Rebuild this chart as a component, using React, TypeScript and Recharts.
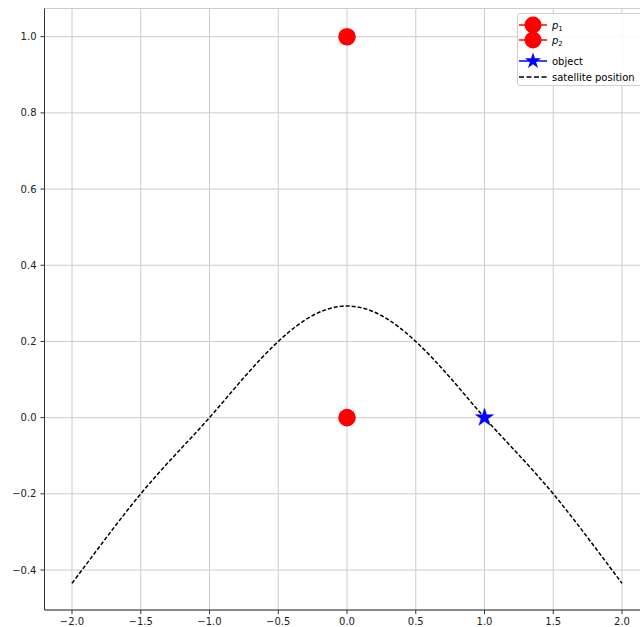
import React from 'react';
import { ComposedChart, Line, Scatter, XAxis, YAxis, CartesianGrid, Legend } from 'recharts';

// axis ticks
const xTicks = [-2, -1.5, -1, -0.5, 0, 0.5, 1, 1.5, 2];
const yTicks = [-0.4, -0.2, 0, 0.2, 0.4, 0.6, 0.8, 1.0];

// satellite position (dashed curve)
const satX = [-2, -1.75, -1.5, -1.25, -1, -0.75, -0.5, -0.25, 0, 0.25, 0.5, 0.75, 1, 1.25, 1.5, 1.75, 2];
const satY = [-0.435, -0.315, -0.2, -0.098, 0, 0.105, 0.2, 0.268, 0.293, 0.268, 0.2, 0.105, 0, -0.098, -0.2, -0.315, -0.435];

// single points
const p1 = [{ x: 0, y: 1 }];
const p2 = [{ x: 0, y: 0 }];
const objectPt = [{ x: 1, y: 0 }];

const legendLabels = ['p1', 'p2', 'object', 'satellite position'];

const satData = satX.map((x, i) => ({ x, y: satY[i] }));

const fmt = (v: number) => v.toFixed(1).replace('-', '\u2212');
const FONT = '"DejaVu Sans", sans-serif';

const starPoints = (cx: number, cy: number, R: number) => {
  const r = R * 0.382;
  const pts: string[] = [];
  for (let i = 0; i < 10; i++) {
    const rad = i % 2 === 0 ? R : r;
    const a = -Math.PI / 2 + (i * Math.PI) / 5;
    pts.push(`${cx + rad * Math.cos(a)},${cy + rad * Math.sin(a)}`);
  }
  return pts.join(' ');
};

const RedDot = (props: any) => <circle cx={props.cx} cy={props.cy} r={8.8} fill="#ff0000" />;
const BlueStar = (props: any) => (
  <polygon points={starPoints(props.cx, props.cy, 9.5)} fill="#0000ff" stroke="#0000ff" strokeWidth={0.5} />
);

const LegendBox = () => {
  const rows = [11, 26, 47, 63];
  return (
    <div
      style={{
        width: 132,
        height: 73,
        border: '1px solid #d0d0d0',
        borderRadius: 3,
        background: 'rgba(255,255,255,0.85)',
        boxSizing: 'border-box',
      }}
    >
      <svg width={130} height={71} style={{ display: 'block' }}>
        <line x1={1} x2={29} y1={rows[0]} y2={rows[0]} stroke="#ff0000" strokeWidth={1.5} />
        <circle cx={15} cy={rows[0]} r={8.5} fill="#ff0000" />
        <line x1={1} x2={29} y1={rows[1]} y2={rows[1]} stroke="#ff0000" strokeWidth={1.5} />
        <circle cx={15} cy={rows[1]} r={8.5} fill="#ff0000" />
        <line x1={1} x2={29} y1={rows[2]} y2={rows[2]} stroke="#0000ff" strokeWidth={1.5} />
        <polygon points={starPoints(15, rows[2], 8.5)} fill="#0000ff" />
        <line x1={1} x2={29} y1={rows[3]} y2={rows[3]} stroke="#000" strokeWidth={1.5} strokeDasharray="5 2.5" />
        <text x={34} y={rows[0] + 3.5} fontSize={10} fontFamily={FONT} fill="#000">
          <tspan fontStyle="italic">p</tspan>
          <tspan fontSize={7} dy={2}>1</tspan>
        </text>
        <text x={34} y={rows[1] + 3.5} fontSize={10} fontFamily={FONT} fill="#000">
          <tspan fontStyle="italic">p</tspan>
          <tspan fontSize={7} dy={2}>2</tspan>
        </text>
        <text x={34} y={rows[2] + 3.5} fontSize={10} fontFamily={FONT} fill="#000">
          {legendLabels[2]}
        </text>
        <text x={34} y={rows[3] + 3.5} fontSize={10} fontFamily={FONT} fill="#000">
          {legendLabels[3]}
        </text>
      </svg>
    </div>
  );
};

export default function App() {
  const tickStyle = { fontSize: 10, fill: '#222', fontFamily: FONT };
  return (
    <div style={{ position: 'absolute', left: 0, top: 0, width: 640, height: 627, overflow: 'hidden', background: '#fff' }}>
      <ComposedChart width={680} height={640} data={satData} margin={{ top: 8.5, right: 30.5, bottom: 0, left: 0 }}>
        <CartesianGrid stroke="#cccccc" strokeWidth={1} />
        <XAxis
          dataKey="x"
          type="number"
          domain={[-2.2, 2.2]}
          ticks={xTicks}
          allowDataOverflow
          height={30}
          tickSize={4}
          tickMargin={4}
          tick={tickStyle}
          tickFormatter={fmt}
          axisLine={{ stroke: '#333' }}
          tickLine={{ stroke: '#333' }}
        />
        <XAxis
          xAxisId="top"
          orientation="top"
          type="number"
          domain={[-2.2, 2.2]}
          height={0}
          tick={false}
          tickLine={false}
          axisLine={{ stroke: '#333' }}
        />
        <YAxis
          dataKey="y"
          type="number"
          domain={[-0.505, 1.074]}
          ticks={yTicks}
          allowDataOverflow
          width={44.5}
          tickSize={4}
          tickMargin={4}
          tick={tickStyle}
          tickFormatter={fmt}
          axisLine={{ stroke: '#333' }}
          tickLine={{ stroke: '#333' }}
        />
        <Legend
          layout="vertical"
          align="center"
          verticalAlign="middle"
          wrapperStyle={{ left: 517, top: 13, width: 132, height: 73 }}
          content={() => <LegendBox />}
        />
        <Scatter data={p1} dataKey="y" shape={RedDot} isAnimationActive={false} />
        <Scatter data={p2} dataKey="y" shape={RedDot} isAnimationActive={false} />
        <Scatter data={objectPt} dataKey="y" shape={BlueStar} isAnimationActive={false} />
        <Line
          dataKey="y"
          type="natural"
          stroke="#000"
          strokeWidth={1.5}
          strokeDasharray="4 2"
          dot={false}
          activeDot={false}
          isAnimationActive={false}
        />
      </ComposedChart>
    </div>
  );
}
